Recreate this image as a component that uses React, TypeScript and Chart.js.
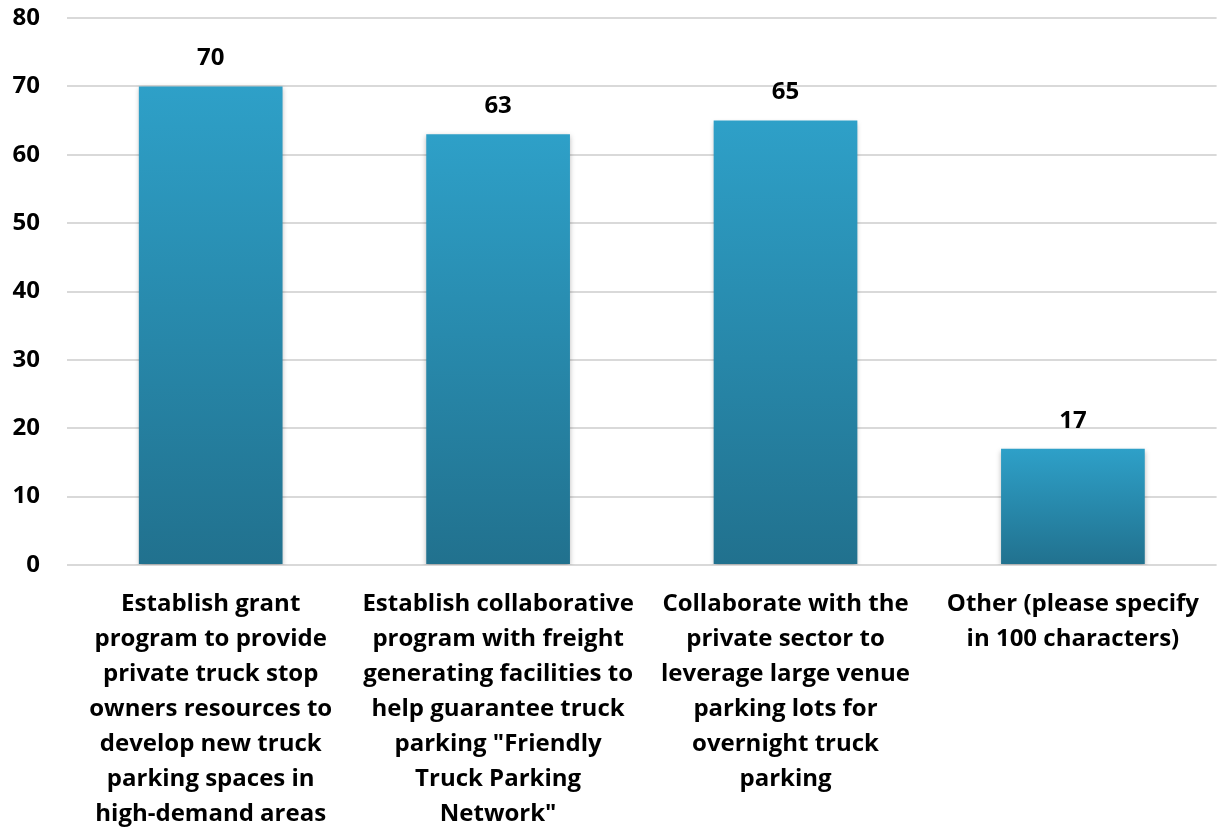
import React, { useEffect, useRef } from "react";
import { Chart, registerables } from "chart.js";

Chart.register(...registerables);

const categories: string[][] = [
  ["Establish grant", "program to provide", "private truck stop", "owners resources to", "develop new truck", "parking spaces in", "high-demand areas"],
  ["Establish collaborative", "program with freight", "generating facilities to", "help guarantee truck", "parking \"Friendly", "Truck Parking", "Network\""],
  ["Collaborate with the", "private sector to", "leverage large venue", "parking lots for", "overnight truck", "parking"],
  ["Other (please specify", "in 100 characters)"],
];
const values: number[] = [70, 63, 65, 17];
const yTicks: number[] = [0, 10, 20, 30, 40, 50, 60, 70, 80];

const FONT = "'Open Sans', 'Noto Sans', sans-serif";

const valueLabels = {
  id: "valueLabels",
  afterDatasetsDraw(chart: any) {
    const ctx = chart.ctx;
    const meta = chart.getDatasetMeta(0);
    ctx.save();
    ctx.font = `bold 24px ${FONT}`;
    ctx.fillStyle = "#000";
    ctx.textAlign = "center";
    ctx.textBaseline = "middle";
    meta.data.forEach((bar: any, i: number) => {
      ctx.fillText(String(values[i]), bar.x, bar.y - 28);
    });
    ctx.restore();
  },
};

const barShadow = {
  id: "barShadow",
  beforeDatasetDraw(chart: any) {
    const ctx = chart.ctx;
    ctx.save();
    ctx.shadowColor = "rgba(0,0,0,0.28)";
    ctx.shadowBlur = 5;
    ctx.shadowOffsetX = 0;
    ctx.shadowOffsetY = 2;
  },
  afterDatasetDraw(chart: any) {
    chart.ctx.restore();
  },
};

export default function App() {
  const ref = useRef<HTMLCanvasElement | null>(null);
  useEffect(() => {
    if (!ref.current) return;
    const chart = new Chart(ref.current, {
      type: "bar",
      data: {
        labels: categories,
        datasets: [
          {
            data: values,
            backgroundColor: (c: any) => {
              const ch = c.chart;
              const ys = ch.scales && ch.scales.y;
              if (!ys || c.dataIndex === undefined) return "#2a8db3";
              const v = values[c.dataIndex];
              const top = ys.getPixelForValue(v);
              const bottom = ys.getPixelForValue(0);
              if (!isFinite(top) || !isFinite(bottom) || top === bottom) return "#2a8db3";
              const g = ch.ctx.createLinearGradient(0, top, 0, bottom);
              g.addColorStop(0, "#2ea0c8");
              g.addColorStop(1, "#21718e");
              return g;
            },
            borderWidth: 0,
            barPercentage: 0.5,
            categoryPercentage: 1,
          },
        ],
      },
      options: {
        animation: false,
        responsive: true,
        maintainAspectRatio: false,
        layout: { padding: { top: 0, left: 0, right: 0, bottom: 0 } },
        plugins: {
          legend: { display: false },
          tooltip: { enabled: false },
        },
        scales: {
          x: {
            grid: { display: false, drawTicks: false },
            border: { display: false },
            afterFit: (s: any) => {
              s.height = 266;
            },
            ticks: {
              color: "#000",
              font: { family: FONT, size: 24, weight: "bold", lineHeight: 1.458 },
              padding: 22,
              maxRotation: 0,
              autoSkip: false,
            },
          },
          y: {
            min: 0,
            max: 80,
            afterBuildTicks: (s: any) => {
              s.ticks = yTicks.map((v) => ({ value: v }));
            },
            afterFit: (s: any) => {
              s.width = 67;
              s.paddingTop = 18;
              s.paddingBottom = 0;
            },
            grid: { color: "#d9d9d9", lineWidth: 2, drawTicks: false },
            border: { display: false },
            ticks: {
              color: "#000",
              font: { family: FONT, size: 24, weight: "bold" },
              padding: 27,
            },
          },
        },
      },
      plugins: [barShadow, valueLabels],
    });
    return () => chart.destroy();
  }, []);
  return (
    <div style={{ position: "fixed", left: 0, top: 0, width: 1221, height: 831, background: "#fff" }}>
      <canvas ref={ref} />
    </div>
  );
}
